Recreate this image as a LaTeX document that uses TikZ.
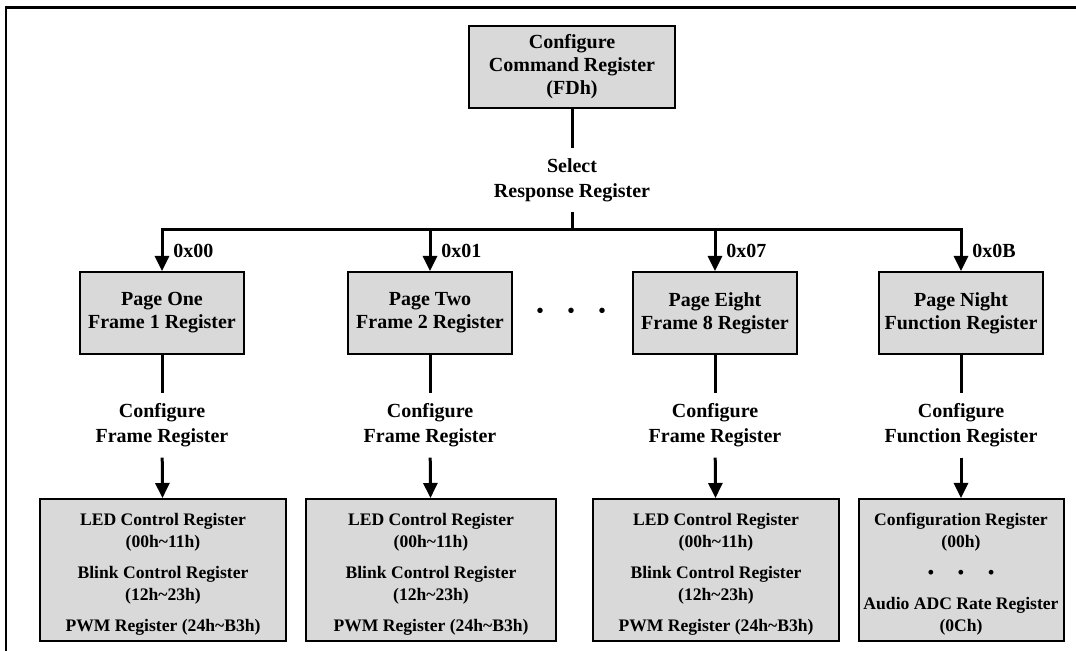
\documentclass[tikz,border=0pt]{standalone}
\usepackage{fontspec}
\setmainfont{Liberation Serif}
\usetikzlibrary{arrows.meta,positioning}

\tikzset{
  regbox/.style={rectangle, draw, line width=1pt, fill=black!15, align=center, inner sep=0pt,
    font=\fontsize{10}{11.5}\selectfont\bfseries},
  pagebox/.style={regbox, minimum width=82pt, minimum height=41pt},
  listbox/.style={regbox, minimum width=123pt, minimum height=71pt,
    font=\fontsize{8.8}{11}\selectfont\bfseries},
  steplabel/.style={align=center, inner sep=5pt, font=\fontsize{10}{12.5}\selectfont\bfseries},
  addr/.style={anchor=west, inner sep=0pt, font=\fontsize{10}{12}\selectfont\bfseries},
  link/.style={line width=1.5pt},
  feed/.style={link, -{Triangle[length=7.5pt,width=7pt]}}
}
\newcommand{\toppad}{\rule{0pt}{10.5pt}}

\begin{document}
\begin{tikzpicture}[x=0.5pt, y=-0.5pt]
  \useasboundingbox (0,0) rectangle (1076,651);
  \draw[line width=1.2pt] (1076,7.5) -- (6,7.5) -- (6,651);

  % command register and selection
  \node[regbox, minimum width=103pt, minimum height=41pt] (command) at (572,67) {Configure\\Command Register\\(FDh)};
  \node[steplabel] (select) at (572,180) {Select\\Response Register};
  \coordinate (bus) at (572,230);

  % pages
  \node[pagebox] (page1) at (162,313) {Page One\\Frame 1 Register};
  \node[pagebox] (page2) at (430,313) {Page Two\\Frame 2 Register};
  \node[pagebox] (page3) at (715,313) {Page Eight\\Frame 8 Register};
  \node[pagebox] (page4) at (961,313) {Page Night\\Function Register};
  \node[font=\fontsize{10}{12}\selectfont\bfseries] (gap) at (571,313) {\textbullet\hspace{12pt}\textbullet\hspace{12pt}\textbullet};

  \node[addr] (addr1) at ([xshift=5.5pt, yshift=10pt]page1.north) {0x00};
  \node[addr] (addr2) at ([xshift=5.5pt, yshift=10pt]page2.north) {0x01};
  \node[addr] (addr3) at ([xshift=5.5pt, yshift=10pt]page3.north) {0x07};
  \node[addr] (addr4) at ([xshift=5.5pt, yshift=10pt]page4.north) {0x0B};

  % configure labels
  \node[steplabel] (cfg1) at (162,425.5) {Configure\\Frame Register};
  \node[steplabel] (cfg2) at (430,425.5) {Configure\\Frame Register};
  \node[steplabel] (cfg3) at (715,425.5) {Configure\\Frame Register};
  \node[steplabel] (cfg4) at (961,425.5) {Configure\\Function Register};

  % register lists
  \node[listbox] (list1) at (163,570) {\toppad LED Control Register\\(00h\char`\~11h)\\[4.5pt]Blink Control Register\\(12h\char`\~23h)\\[4.5pt]PWM Register (24h\char`\~B3h)};
  \node[listbox, minimum width=125pt] (list2) at (431,570) {\toppad LED Control Register\\(00h\char`\~11h)\\[4.5pt]Blink Control Register\\(12h\char`\~23h)\\[4.5pt]PWM Register (24h\char`\~B3h)};
  \node[listbox] (list3) at (716,570) {\toppad LED Control Register\\(00h\char`\~11h)\\[4.5pt]Blink Control Register\\(12h\char`\~23h)\\[4.5pt]PWM Register (24h\char`\~B3h)};
  \node[listbox, minimum width=102.5pt] (list4) at (961,570) {\toppad Configuration Register\\(00h)\\[4.5pt]\textbullet\hspace{12pt}\textbullet\hspace{12pt}\textbullet\\[4.5pt]Audio ADC Rate Register\\(0Ch)};

  \draw[link] (command) -- (select);
  \draw[link] (select) -- (bus);
  \foreach \i in {1,...,4} {
    \draw[feed] (bus) -| (page\i);
    \draw[link] (page\i) -- (cfg\i);
    \draw[feed] (cfg\i) -- (list\i);
  }
\end{tikzpicture}
\end{document}
